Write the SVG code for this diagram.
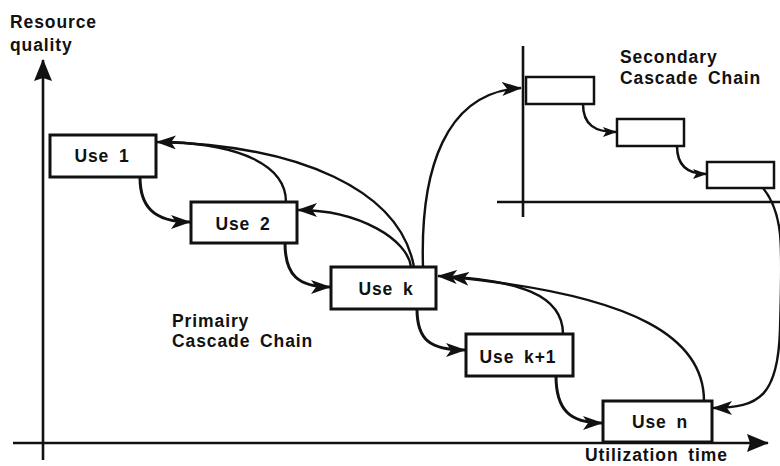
<svg xmlns="http://www.w3.org/2000/svg" width="780" height="466" viewBox="0 0 780 466">
<defs>
<style>
.bg{fill:#ffffff}
.axis{stroke:#111;stroke-width:2.6;fill:none}
.box{fill:#ffffff;stroke:#111;stroke-width:3}
.sbox{fill:#ffffff;stroke:#111;stroke-width:2.5}
.lbl{font-family:"Liberation Sans",Arial,sans-serif;font-weight:bold;font-size:17.5px;letter-spacing:0.9px;word-spacing:4px;fill:#111}
.ctr{text-anchor:middle}
.flow{stroke:#111;stroke-width:3;fill:none;marker-end:url(#ah)}
.back{stroke:#111;stroke-width:2.4;fill:none;marker-end:url(#ah)}
.line{stroke:#111;stroke-width:2.4;fill:none}
.sflow{stroke:#111;stroke-width:2.5;fill:none;marker-end:url(#ahs)}
</style>
<marker id="ah" viewBox="0 0 20 14" refX="19" refY="7" markerWidth="20" markerHeight="14" markerUnits="userSpaceOnUse" orient="auto">
<path d="M0,0 L20,7 L0,14 L5,7 Z" fill="#111"/>
</marker>
<marker id="ahs" viewBox="0 0 14 10" refX="13" refY="5" markerWidth="14" markerHeight="10" markerUnits="userSpaceOnUse" orient="auto">
<path d="M0,0 L14,5 L0,10 L3,5 Z" fill="#111"/>
</marker>
<marker id="axh" viewBox="0 0 22 18" refX="21" refY="9" markerWidth="22" markerHeight="18" markerUnits="userSpaceOnUse" orient="auto">
<path d="M0,0 L22,9 L0,18 L3,9 Z" fill="#111"/>
</marker>
</defs>
<rect class="bg" x="0" y="0" width="780" height="466"/>

<g id="axes">
<line class="axis" x1="43" y1="460" x2="43" y2="60" marker-end="url(#axh)"/>
<line class="axis" x1="13" y1="443" x2="768" y2="443" marker-end="url(#axh)"/>
<line class="axis" x1="523" y1="46" x2="523" y2="217"/>
<line class="axis" x1="497" y1="202" x2="780" y2="202"/>
<text class="lbl" x="10" y="28">Resource</text>
<text class="lbl" x="10" y="51">quality</text>
<text class="lbl" x="585" y="461">Utilization time</text>
<text class="lbl" x="620" y="63">Secondary</text>
<text class="lbl" x="620" y="84">Cascade  Chain</text>
<text class="lbl" x="172" y="327">Primairy</text>
<text class="lbl" x="172" y="347">Cascade  Chain</text>
</g>

<g id="connectors">
<path class="flow" d="M140,177 C140,205 152,222 190,222"/>
<path class="flow" d="M285,243 C285,275 298,287 330,287"/>
<path class="flow" d="M417,309 C417,340 430,350 465,350"/>
<path class="flow" d="M556,376 C556,410 570,423 602,423"/>
<path class="back" d="M414,267 C400,190 300,145 157,142"/>
<path class="line" d="M286,202 C286,165 240,145 170,142"/>
<path class="back" d="M411,267 C408,240 360,210 298,210"/>
<path class="back" d="M423,267 C420,170 445,92 521,88"/>
<path class="back" d="M563,334 C563,295 520,280 438,276"/>
<path class="back" d="M704,401 C704,340 640,295 450,277"/>
<path class="back" d="M763,188 C785,215 782,250 780,330 C778,395 760,408 713,408"/>
<path class="sflow" d="M583,104 C583,125 595,132 616,132"/>
<path class="sflow" d="M677,146 C677,166 688,174 706,174"/>
</g>

<g id="use1"><rect class="box" x="50" y="135" width="106" height="42"/><text class="lbl ctr" x="102" y="162">Use  1</text></g>
<g id="use2"><rect class="box" x="191" y="202" width="106" height="41"/><text class="lbl ctr" x="243" y="230">Use  2</text></g>
<g id="usek"><rect class="box" x="331" y="267" width="105" height="42"/><text class="lbl ctr" x="386" y="295">Use  k</text></g>
<g id="usek1"><rect class="box" x="466" y="334" width="107" height="42"/><text class="lbl ctr" x="518" y="363">Use  k+1</text></g>
<g id="usen"><rect class="box" x="603" y="401" width="109" height="41"/><text class="lbl ctr" x="660" y="428">Use  n</text></g>
<g id="sec1"><rect class="sbox" x="526" y="77" width="68" height="27"/></g>
<g id="sec2"><rect class="sbox" x="617" y="119" width="67" height="27"/></g>
<g id="sec3"><rect class="sbox" x="707" y="162" width="67" height="26"/></g>
</svg>
